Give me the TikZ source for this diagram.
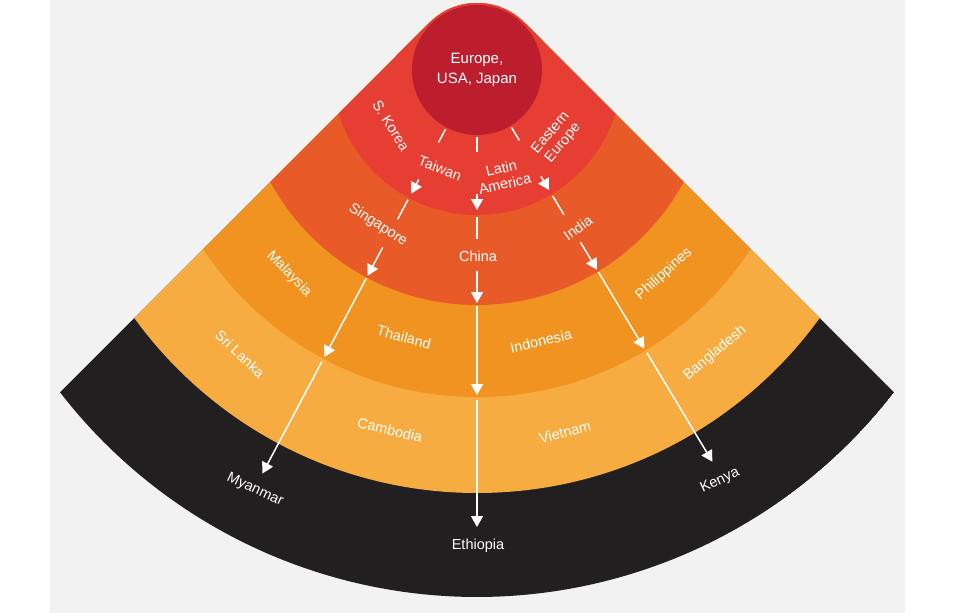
\documentclass[tikz,border=0pt]{standalone}
\usepackage{fontspec}
\setmainfont{Liberation Sans}
\usepackage{xcolor}
\usetikzlibrary{arrows.meta}

\definecolor{bggray}{HTML}{F2F2F2}
\definecolor{coreRed}{HTML}{BD1E2D}
\definecolor{ringA}{HTML}{E63E32}
\definecolor{ringB}{HTML}{E85A28}
\definecolor{ringC}{HTML}{F09321}
\definecolor{ringD}{HTML}{F6AC40}
\definecolor{ringE}{HTML}{221F20}

\begin{document}
\begin{tikzpicture}[x=1pt, y=1pt, >={Triangle[width=12pt,length=11pt]},
  lbl/.style={text=white, align=center, inner sep=0pt,
    font=\fontsize{14.5}{16}\selectfont},
  flow/.style={white, line width=1.5pt}]
  %% frame
  \useasboundingbox (-477,-543) rectangle (498,70);
  \fill[bggray] (-427,-543) rectangle (428,70);
  %% fan of rings
  \begin{scope}
    \clip (135:67) arc[start angle=135, end angle=45, radius=67]
      -- (-37.7:527) arc[start angle=-37.7, end angle=-142.3, radius=527] -- cycle;
    \foreach \r/\c in {527/ringE, 423/ringD, 327/ringC, 235/ringB, 145/ringA}
      \fill[\c] (0,0) circle (\r);
  \end{scope}
  %% core
  \node[circle, fill=coreRed, minimum size=130pt, lbl,
    font=\fontsize{15}{20}\selectfont] (eu) at (0,0) {Europe,\\USA, Japan};
  %% countries
  \node[lbl, rotate=-58] (skorea)  at (-86,-56)   {S. Korea};
  \node[lbl, rotate=-21] (taiwan)  at (-37,-98)   {Taiwan};
  \node[lbl, rotate=13]  (latam)   at (26,-106)   {Latin\\America};
  \node[lbl, rotate=50]  (easteu)  at (80,-68)    {Eastern\\Europe};
  \node[lbl, rotate=-33] (singap)  at (-99,-155)  {Singapore};
  \node[lbl]             (china)   at (1,-186)    {China};
  \node[lbl, rotate=35]  (india)   at (101,-158)  {India};
  \node[lbl, rotate=-46] (malays)  at (-188,-204) {Malaysia};
  \node[lbl, rotate=-15] (thai)    at (-73,-267)  {Thailand};
  \node[lbl, rotate=13]  (indon)   at (64,-271)   {Indonesia};
  \node[lbl, rotate=42]  (philip)  at (187,-204)  {Philippines};
  \node[lbl, rotate=-43] (srilk)   at (-237,-284) {Sri Lanka};
  \node[lbl, rotate=-13] (cambod)  at (-87,-360)  {Cambodia};
  \node[lbl, rotate=14]  (vietn)   at (88,-362)   {Vietnam};
  \node[lbl, rotate=40]  (bangla)  at (238,-283)  {Bangladesh};
  \node[lbl, rotate=-25] (myanm)   at (-222,-420) {Myanmar};
  \node[lbl]             (ethiop)  at (1,-476)    {Ethiopia};
  \node[lbl, rotate=25]  (kenya)   at (243,-411)  {Kenya};
  %% migration paths
  \foreach \a/\n in {-118/l, -90/m, -59/r}{
    \foreach \r [count=\i from 0] in {67,82,124,140,147,169,201,233,236,325,330,457}
      \coordinate (\n\i) at (\a:\r);
    \draw[flow] (\n0) -- (\n1);
    \draw[flow, ->] (\n2) -- (\n3);
    \draw[flow] (\n4) -- (\n5);
    \draw[flow, ->] (\n6) -- (\n7);
    \draw[flow, ->] (\n8) -- (\n9);
    \draw[flow, ->] (\n10) -- (\n11);
  }
\end{tikzpicture}
\end{document}
